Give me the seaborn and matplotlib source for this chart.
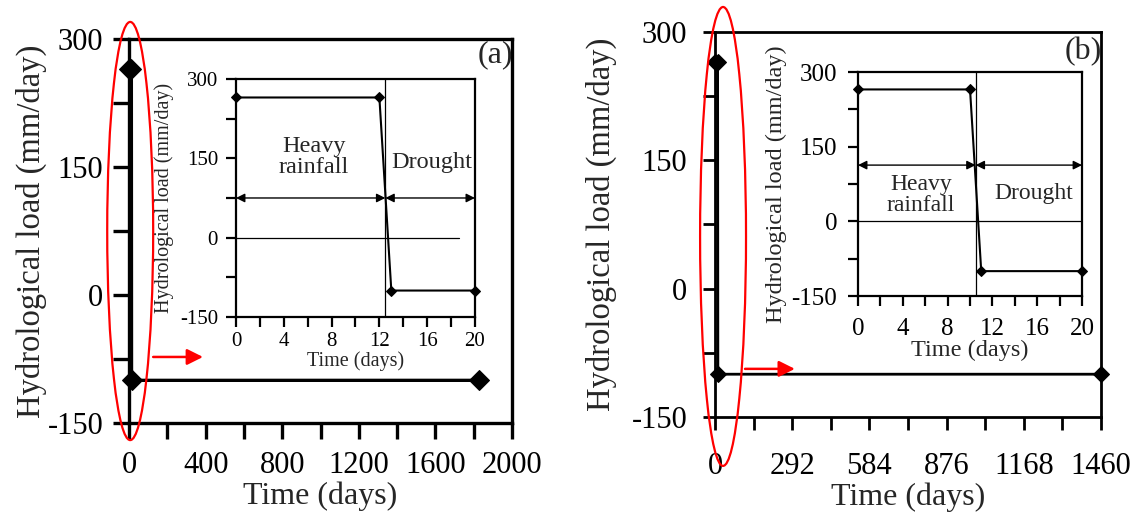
import numpy as np
import pandas as pd
import seaborn as sns
import matplotlib
matplotlib.use('Agg')
import matplotlib.pyplot as plt
from matplotlib.patches import Ellipse
from matplotlib.ticker import MultipleLocator

# Données : charge hydrologique (mm/jour) en fonction du temps (jours)
# (a) 12 jours de fortes pluies puis sécheresse sur 5 ans
time_a = [0, 12, 13, 1825]
load_a = [265, 265, -100, -100]
inset_time_a = [0, 12, 13, 20]
inset_load_a = [265, 265, -100, -100]
split_a = 12.5
arrow_level_a = 75
zero_end_a = 18.7
heavy_pos_a = (6.5, 152)
drought_pos_a = (16.4, 142)

# (b) 10 jours de fortes pluies puis sécheresse sur 4 ans
time_b = [0, 10, 11, 1460]
load_b = [265, 265, -100, -100]
inset_time_b = [0, 10, 11, 20]
inset_load_b = [265, 265, -100, -100]
split_b = 10.5
arrow_level_b = 113
zero_end_b = 20
heavy_pos_b = (5.6, 53)
drought_pos_b = (15.7, 56)

main_xticks_a = [0, 400, 800, 1200, 1600, 2000]
main_xticks_b = [0, 292, 584, 876, 1168, 1460]
yticks = [-150, 0, 150, 300]
inset_xticks = [0, 4, 8, 12, 16, 20]

sns.set_style("ticks")
plt.rcParams['font.family'] = ['Liberation Serif', 'DejaVu Serif']
plt.rcParams['axes.unicode_minus'] = False

fig = plt.figure(figsize=(11.39, 5.23), dpi=100)


def style_axes(ax, lw, tlen, tsize, xpad, ypad):
    for s in ax.spines.values():
        s.set_visible(True)
        s.set_linewidth(lw)
        s.set_color('black')
    ax.tick_params(which='both', direction='out', length=tlen, width=lw,
                   labelsize=tsize, colors='black')
    ax.tick_params(axis='x', which='both', pad=xpad)
    ax.tick_params(axis='y', which='both', pad=ypad)
    ax.set_facecolor('white')


def main_panel(rect, t, load, xmax, xticks, minor, lw, ms, tlen, xpad, ypad,
               label, label_xy, ylab_x, ell, red_arrow):
    ax = fig.add_axes(rect)
    sns.lineplot(x=t, y=load, ax=ax, color='black', linewidth=lw,
                 marker='D', markersize=ms, markeredgecolor='black',
                 markerfacecolor='black', clip_on=False, zorder=3)
    ax.set_xlim(0, xmax)
    ax.set_ylim(-150, 300)
    ax.set_xticks(xticks)
    ax.set_yticks(yticks)
    ax.xaxis.set_minor_locator(MultipleLocator(minor))
    ax.yaxis.set_minor_locator(MultipleLocator(75))
    style_axes(ax, lw, tlen, 22, xpad, ypad)
    ax.set_xlabel('Time (days)', fontsize=23, labelpad=1)
    ax.set_ylabel('Hydrological load (mm/day)', fontsize=23.5)
    ax.yaxis.set_label_coords(ylab_x, 0.5)
    ax.text(label_xy[0], label_xy[1], label, transform=ax.transAxes,
            fontsize=23, ha='center', va='center')
    cx, cy, w, h = ell
    ax.add_patch(Ellipse((cx, cy), w, h, transform=ax.transAxes, fill=False,
                         edgecolor='red', linewidth=1.6, clip_on=False, zorder=5))
    x0, x1, yy = red_arrow
    ax.annotate('', xy=(x1, yy), xytext=(x0, yy), xycoords='axes fraction',
                arrowprops=dict(arrowstyle='-|>', color='red', lw=1.8,
                                mutation_scale=24, shrinkA=0, shrinkB=0))
    return ax


def inset_panel(rect, t, load, split, arrow_level, zero_end, heavy_pos,
                drought_pos, tsize, lsize, txtsize, xpad, ypad, ylab_x):
    ax = fig.add_axes(rect)
    sns.lineplot(x=t, y=load, ax=ax, color='black', linewidth=1.5,
                 marker='D', markersize=5.6, markeredgecolor='black',
                 markerfacecolor='black', clip_on=False, zorder=3)
    ax.set_xlim(0, 20)
    ax.set_ylim(-150, 300)
    ax.set_xticks(inset_xticks)
    ax.set_yticks(yticks)
    ax.xaxis.set_minor_locator(MultipleLocator(2))
    ax.yaxis.set_minor_locator(MultipleLocator(75))
    style_axes(ax, 1.6, 7, tsize, xpad, ypad)
    ax.axhline(0, xmin=0, xmax=zero_end / 20, color='black', lw=0.9)
    ax.axvline(split, color='black', lw=0.9)
    arrow = dict(arrowstyle='<|-|>', color='black', lw=1.0,
                 mutation_scale=13, shrinkA=0, shrinkB=0)
    ax.annotate('', xy=(split, arrow_level), xytext=(0, arrow_level),
                arrowprops=arrow)
    ax.annotate('', xy=(20, arrow_level), xytext=(split, arrow_level),
                arrowprops=arrow)
    ax.text(heavy_pos[0], heavy_pos[1], 'Heavy\nrainfall', fontsize=txtsize,
            ha='center', va='center', linespacing=1.0)
    ax.text(drought_pos[0], drought_pos[1], 'Drought', fontsize=txtsize,
            ha='center', va='center')
    ax.set_xlabel('Time (days)', fontsize=lsize, labelpad=0)
    ax.set_ylabel('Hydrological load (mm/day)', fontsize=lsize)
    ax.yaxis.set_label_coords(ylab_x, 0.5)
    return ax


main_panel([0.1133, 0.1912, 0.3363, 0.7342], time_a, load_a, 2000,
           main_xticks_a, 200, 2.4, 9.7, 11.5, 9, 7, '(a)', (0.956, 0.958),
           -0.215, (0.003, 0.5, 0.12, 1.089), (0.063, 0.193, 0.172))
main_panel([0.6277, 0.2027, 0.3389, 0.7361], time_b, load_b, 1460,
           main_xticks_b, 146, 2.0, 8.0, 9, 16, 11, '(b)', (0.955, 0.948),
           -0.254, (0.021, 0.469, 0.119, 1.192), (0.078, 0.207, 0.125))

inset_panel([0.2072, 0.3939, 0.2098, 0.4551], inset_time_a, inset_load_a,
            split_a, arrow_level_a, zero_end_a, heavy_pos_a, drought_pos_a,
            15, 14.5, 17.5, 4, 6, -0.26)
inset_panel([0.7533, 0.434, 0.1967, 0.4283], inset_time_b, inset_load_b,
            split_b, arrow_level_b, zero_end_b, heavy_pos_b, drought_pos_b,
            18, 17.5, 17, 9, 8, -0.317)

fig.savefig('out.png', dpi=100)
